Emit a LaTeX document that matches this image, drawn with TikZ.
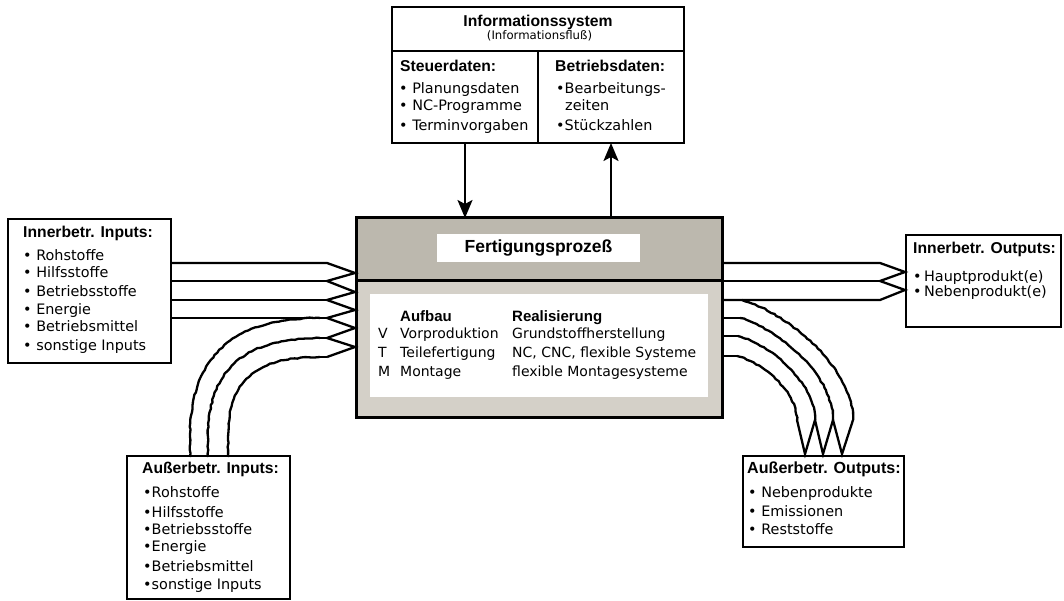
\documentclass[tikz,border=0pt]{standalone}
\usepackage{fontspec}
\setmainfont{DejaVu Sans}
\newfontfamily\headfont{Liberation Sans}
\usetikzlibrary{arrows.meta,decorations.pathmorphing}
\definecolor{procdark}{RGB}{188,184,174}
\definecolor{proclight}{RGB}{212,208,200}
\begin{document}
\begin{tikzpicture}[x=1pt,y=-1pt,
  box/.style={draw, line width=2.5pt, fill=white, inner sep=0pt, outer sep=0pt, anchor=north west},
  hd/.style={font=\headfont\bfseries\fontsize{15.7}{18}\selectfont, anchor=base west, inner sep=0pt},
  tx/.style={font=\fontsize{14.4}{17}\selectfont, anchor=base west, inner sep=0pt},
  tb/.style={font=\fontsize{14}{17}\selectfont, anchor=base west, inner sep=0pt},
  band/.style={line width=2.3pt, line join=miter},
  wavy/.style={decorate, decoration={random steps, segment length=3.5pt, amplitude=0.6pt}},
  flow/.style={line width=2.2pt, -{Stealth[length=18pt, width=15pt, inset=4pt]}},
  ]
\useasboundingbox (0,0) rectangle (1064,601);

% ---- information system (top) ----
\node[box, minimum width=292, minimum height=44] (info) at (392,7) {};
\node[box, minimum width=146, minimum height=92] (steuer) at (392,51) {};
\node[box, minimum width=146, minimum height=92] (betrieb) at (538,51) {};
\node[hd, anchor=base] (infot) at (538,27) {Informationssystem};
\node[font=\fontsize{11.7}{13}\selectfont, anchor=base, inner sep=0pt] (infos) at (539.5,40) {(Informationsfluß)};
\node[hd] (sdt) at (400,72) {Steuerdaten:};
\node[tx] (sd1) at (399,94) {• Planungsdaten};
\node[tx] (sd2) at (399,111) {• NC-Programme};
\node[tx] (sd3) at (399,131) {• Terminvorgaben};
\node[hd] (bdt) at (555,72) {Betriebsdaten:};
\node[tx] (bd1) at (556,94) {•Bearbeitungs-};
\node[tx] (bd2) at (565,111) {zeiten};
\node[tx] (bd3) at (556,131) {•Stückzahlen};

% ---- production process (centre) ----
\node[box, fill=procdark, line width=3pt, minimum width=366, minimum height=63] (proctop) at (356,218) {};
\node[box, fill=proclight, line width=3pt, minimum width=366, minimum height=136] (procbody) at (356,281) {};
\node[fill=white, minimum width=203, minimum height=28, inner sep=0pt,
      font=\headfont\bfseries\fontsize{17.5}{20}\selectfont] (title) at (538.5,248) {Fertigungsprozeß};
\node[fill=white, minimum width=338, minimum height=103, inner sep=0pt, anchor=north west] (tablebg) at (370,294) {};
\node[hd, font=\headfont\bfseries\fontsize{15}{18}\selectfont] (ha) at (400,321) {Aufbau};
\node[hd, font=\headfont\bfseries\fontsize{15}{18}\selectfont] (hr) at (512,321) {Realisierung};
\node[tb] (lv) at (378,338) {V};
\node[tb] (lt) at (378,357) {T};
\node[tb] (lm) at (378,376) {M};
\node[tb] (av) at (400,338) {Vorproduktion};
\node[tb] (at) at (400,357) {Teilefertigung};
\node[tb] (am) at (400,376) {Montage};
\node[tb] (rv) at (512,338) {Grundstoffherstellung};
\node[tb] (rt) at (512,357) {NC, CNC, flexible Systeme};
\node[tb] (rm) at (512,376) {flexible Montagesysteme};

% ---- information flow arrows ----
\draw[flow] (steuer.south) -- (steuer.south |- proctop.north);
\draw[flow] (betrieb.south |- proctop.north) -- (betrieb.south);

% ---- internal inputs (left) ----
\node[box, minimum width=163, minimum height=144] (inin) at (8,219) {};
\node[hd] (init) at (23,238) {Innerbetr. Inputs:};
\node[tx] (in1) at (23,261) {• Rohstoffe};
\node[tx] (in2) at (23,278) {• Hilfsstoffe};
\node[tx] (in3) at (23,297) {• Betriebsstoffe};
\node[tx] (in4) at (23,314) {• Energie};
\node[tx] (in5) at (23,331) {• Betriebsmittel};
\node[tx] (in6) at (23,350) {• sonstige Inputs};

% ---- external inputs (bottom left) ----
\node[box, minimum width=163, minimum height=143] (ausin) at (127,456) {};
\node[hd] (ausit) at (142,473) {Außerbetr. Inputs:};
\node[tx] (ai1) at (143,497) {•Rohstoffe};
\node[tx] (ai2) at (143,517) {•Hilfsstoffe};
\node[tx] (ai3) at (143,534) {•Betriebsstoffe};
\node[tx] (ai4) at (143,551) {•Energie};
\node[tx] (ai5) at (143,571) {•Betriebsmittel};
\node[tx] (ai6) at (143,589) {•sonstige Inputs};

% ---- internal outputs (right) ----
\node[box, minimum width=155, minimum height=92] (inout) at (906,235) {};
\node[hd] (inot) at (913,254) {Innerbetr. Outputs:};
\node[tx] (io1) at (913,281) {•\,Hauptprodukt(e)};
\node[tx] (io2) at (913,296) {•\,Nebenprodukt(e)};

% ---- external outputs (bottom right) ----
\node[box, minimum width=161, minimum height=91] (ausout) at (743,456) {};
\node[hd, font=\headfont\bfseries\fontsize{16.1}{18}\selectfont] (ausot) at (747,473) {Außerbetr. Outputs:};
\node[tx] (ao1) at (748,497) {• Nebenprodukte};
\node[tx] (ao2) at (748,516) {• Emissionen};
\node[tx] (ao3) at (748,534) {• Reststoffe};

% ---- input bands into the process ----
\draw[band] (inin.east |- 0,263) -- (327,263) -- (355,273) -- (327,281) -- (355,292)
  -- (327,300) -- (355,310) -- (327,318) -- (355,328) -- (327,338) -- (355,347) -- (327,357);
\draw[band] (inin.east |- 0,281) -- (327,281);
\draw[band] (inin.east |- 0,300) -- (327,300);
\draw[band] (inin.east |- 0,318) -- (327,318);
\draw[band, wavy] (190,457) -- (190,437) .. controls (190,350) and (240,318) .. (320,318);
\draw[band, wavy] (208,457) -- (208,437) .. controls (208,365) and (250,338) .. (320,338);
\draw[band] (320,338) -- (327,338);
\draw[band, wavy] (228,457) -- (228,437) .. controls (228,378) and (258,357) .. (320,357);
\draw[band] (320,357) -- (327,357);

% ---- output bands out of the process ----
\draw[band] (722,263) -- (880,263) -- (905,272) -- (880,281) -- (905,290) -- (880,300) -- (722,300);
\draw[band] (722,281) -- (880,281);
\draw[band, wavy] (742,300) .. controls (785,312) and (853,366) .. (853,420);
\draw[band] (722,318) -- (740,318);
\draw[band, wavy] (740,318) .. controls (777,328) and (833,374) .. (833,420);
\draw[band] (722,336) -- (738,336);
\draw[band, wavy] (738,336) .. controls (769,344) and (815,382) .. (815,420);
\draw[band] (722,356) -- (737,356);
\draw[band, wavy] (737,356) .. controls (761,362) and (797,391) .. (797,420);
\draw[band] (797,420) -- (805,454) -- (815,420) -- (823,454) -- (833,420) -- (842,454) -- (853,420);
\end{tikzpicture}
\end{document}
